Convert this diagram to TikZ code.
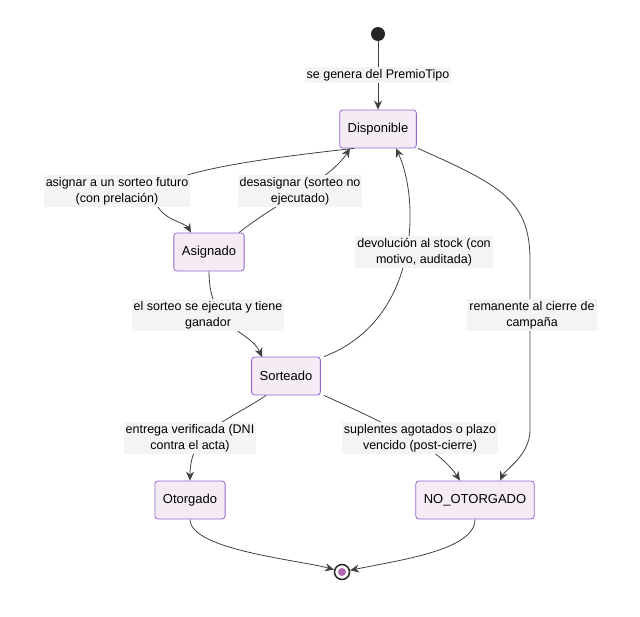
\documentclass[tikz,border=0pt]{standalone}
\usepackage{fontspec}
\setmainfont{Liberation Sans}
\usetikzlibrary{arrows.meta}
\begin{document}
\begin{tikzpicture}[x=1pt,y=-1pt,font=\fontsize{13}{16}\selectfont,
 st/.style={draw=violet!60!blue!60,line width=0.8pt,fill=violet!8,rounded corners=3pt,minimum height=38pt,inner xsep=8pt},
 lb/.style={fill=gray!9,inner sep=2pt,align=center,font=\fontsize{12.5}{16}\selectfont},
 ed/.style={draw=black!75,line width=0.8pt,-{Stealth[length=9pt,width=8pt]}}]
\useasboundingbox (0,0) rectangle (640,616);
\node[circle,fill=black!85,minimum size=14pt,inner sep=0] (s) at (378,34) {};
\node[st] (d) at (378,129) {Disponible};
\node[st] (a) at (209,252) {Asignado};
\node[st] (so) at (286,376) {Sorteado};
\node[st] (o) at (190,500) {Otorgado};
\node[st] (n) at (475,500) {NO\_OTORGADO};
\node[circle,draw=black!85,line width=1.5pt,fill=white,minimum size=15pt,inner sep=0] (e) at (342,572) {};
\node[circle,fill=violet!60,minimum size=8pt,inner sep=0] at (e) {};
\draw[ed] (s) -- (d);
\draw[ed] (d.south west) ++(15,0) coordinate (d1) (d1) .. controls (200,165) and (150,180) .. (155,200) .. controls (160,220) and (185,222) .. ([xshift=-18pt]a.north);
\draw[ed] ([xshift=30pt]a.north) .. controls (280,200) and (330,180) .. ([xshift=-28pt]d.south);
\draw[ed] ([xshift=38pt]so.north) .. controls (420,320) and (420,200) .. ([xshift=18pt]d.south);
\draw[ed] ([xshift=40pt]d.south) .. controls (500,185) and (530,200) .. (530,260) -- (530,430) .. controls (530,455) and (505,470) .. ([xshift=25pt]n.north);
\draw[ed] (a.south) .. controls (209,330) and (250,330) .. (262,357);
\draw[ed] ([xshift=-20pt]so.south) .. controls (230,420) and (190,430) .. (o.north);
\draw[ed] ([xshift=38pt]so.south) .. controls (400,430) and (440,450) .. ([xshift=-15pt]n.north);
\draw[ed] (o.south) .. controls (190,550) and (300,560) .. (e);
\draw[ed] (n.south) .. controls (475,550) and (400,560) .. (e);
\node[lb] (l1) at (378,75) {se genera del PremioTipo};
\node[lb] (l2) at (117,191) {asignar a un sorteo futuro\\(con prelación)};
\node[lb] (l3) at (300,191) {desasignar (sorteo no\\ejecutado)};
\node[lb] (l4) at (424,252) {devolución al stock (con\\motivo, auditada)};
\node[lb] (l5) at (532,315) {remanente al cierre de\\campaña};
\node[lb] (l6) at (208,315) {el sorteo se ejecuta y tiene\\ganador};
\node[lb] (l7) at (190,438) {entrega verificada (DNI\\contra el acta)};
\node[lb] (l8) at (420,438) {suplentes agotados o plazo\\vencido (post-cierre)};
\end{tikzpicture}
\end{document}
